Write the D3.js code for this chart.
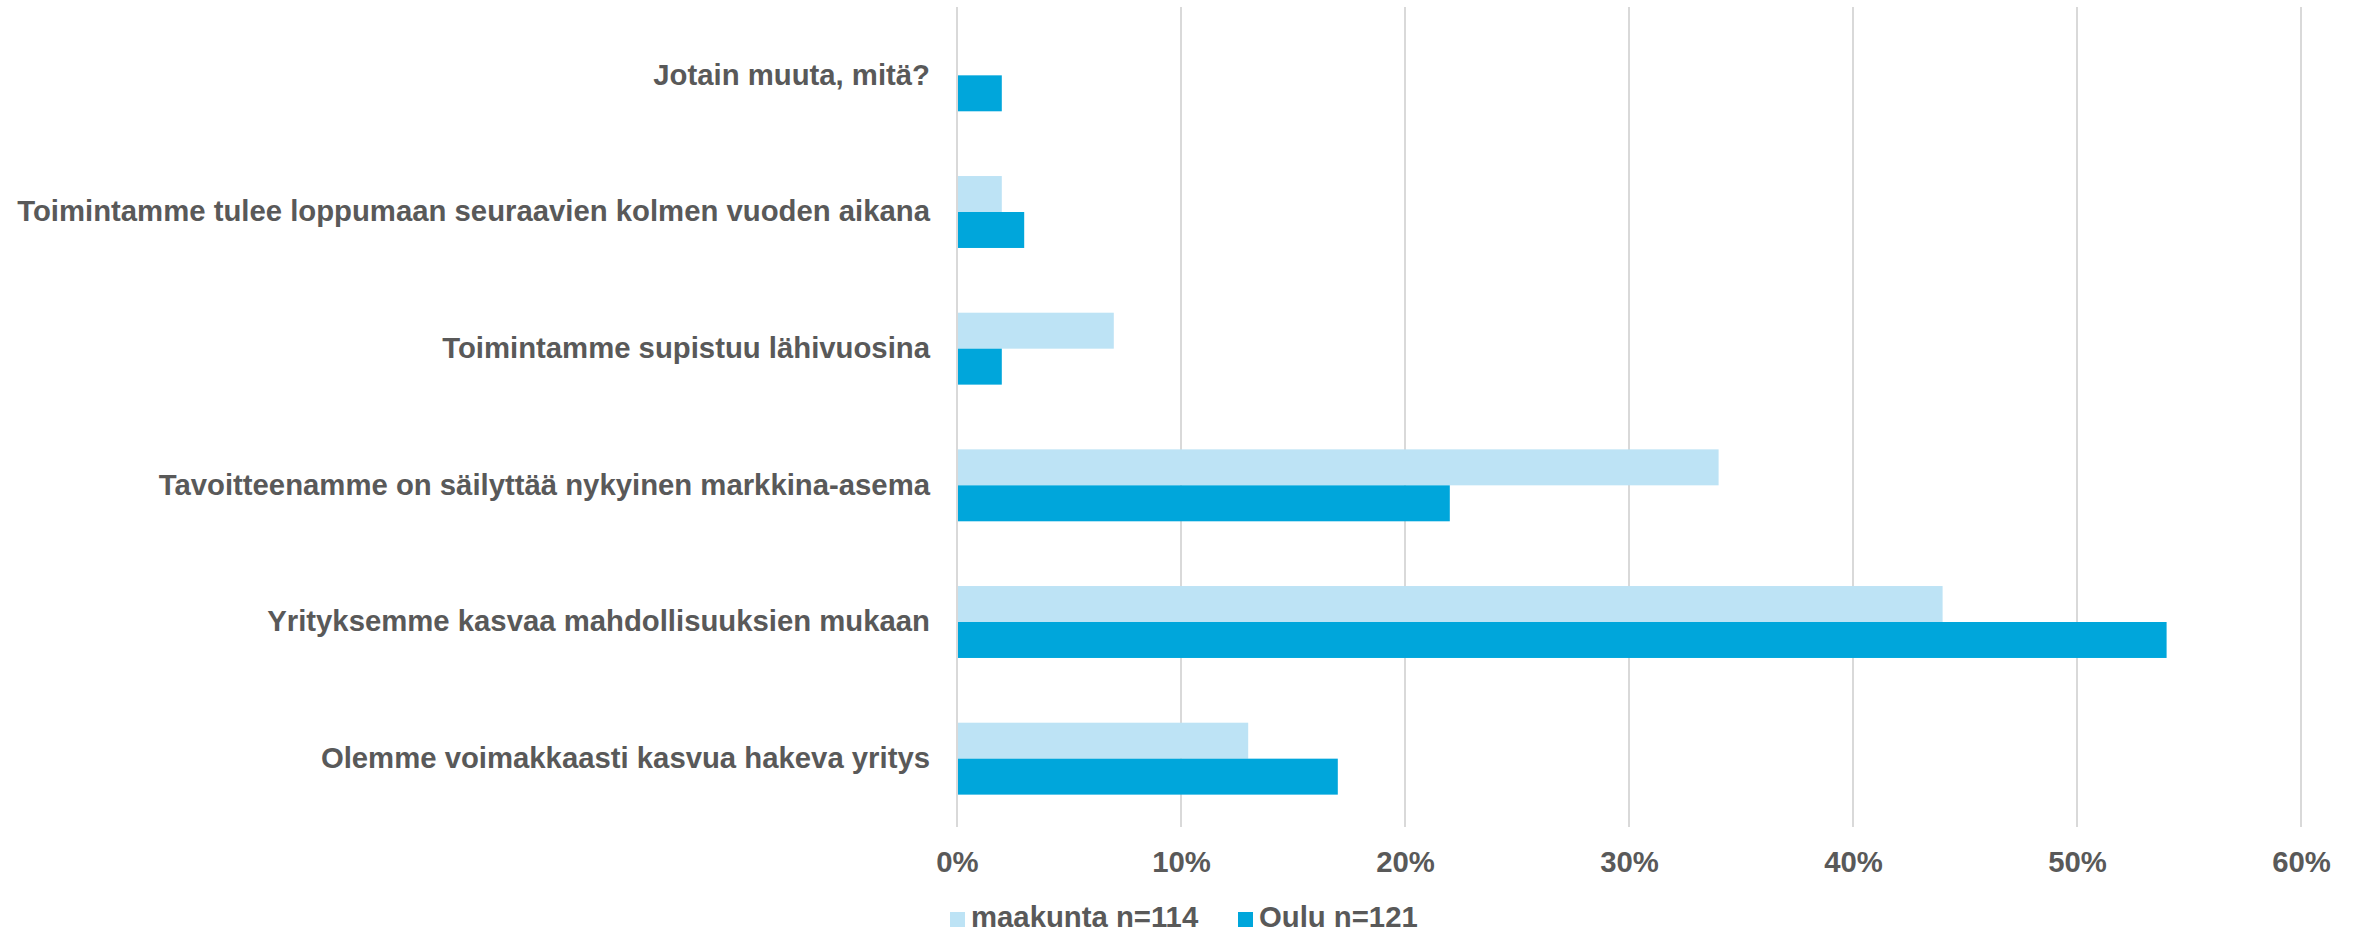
<!DOCTYPE html>
<html><head><meta charset="utf-8">
<script src="https://cdn.jsdelivr.net/npm/d3@7"></script>
<style>body{margin:0;background:#fff;}svg{display:block;font-family:"Liberation Sans",Arial,sans-serif;}</style>
</head><body>
<svg id="chart" width="2361" height="933"></svg>
<script>
const categories = [
  "Jotain muuta, mitä?",
  "Toimintamme tulee loppumaan seuraavien kolmen vuoden aikana",
  "Toimintamme supistuu lähivuosina",
  "Tavoitteenamme on säilyttää nykyinen markkina-asema",
  "Yrityksemme kasvaa mahdollisuuksien mukaan",
  "Olemme voimakkaasti kasvua hakeva yritys"
];
const seriesNames = ["maakunta n=114", "Oulu n=121"];
const maakunta = [0, 0.02, 0.07, 0.34, 0.44, 0.13];
const oulu = [0.02, 0.03, 0.02, 0.22, 0.54, 0.17];
const tickValues = [0, 0.1, 0.2, 0.3, 0.4, 0.5, 0.6];
const colors = ["#BDE3F5", "#00A6DB"];

const svg = d3.select("#chart");
const fontSize = "29.3px";
const x = d3.scaleLinear().domain([0, 0.6]).range([957, 2301]);
const y = d3.scaleBand().domain(categories).range([7, 827]).padding(0);
const y1 = d3.scaleBand().domain(seriesNames).range([0, y.bandwidth()]).paddingInner(0).paddingOuter(0.9);
const textColor = "#595959";

// gridlines
svg.append("g").selectAll("line").data(tickValues).join("line")
  .attr("x1", d => x(d)).attr("x2", d => x(d))
  .attr("y1", 7).attr("y2", 827)
  .attr("stroke", "#D9D9D9").attr("stroke-width", 2);

const data = categories.map((c, i) => ({c, vals: [maakunta[i], oulu[i]]}));
const g = svg.append("g");
data.forEach(d => {
  d.vals.forEach((v, j) => {
    if (v <= 0) return;
    g.append("rect")
      .attr("x", x(0) + 1)
      .attr("y", y(d.c) + y1(seriesNames[j]))
      .attr("width", x(v) - x(0) - 1)
      .attr("height", y1.bandwidth())
      .attr("fill", colors[j]);
  });
});

// category labels
const yAxis = d3.axisLeft(y).tickSize(0).tickPadding(27);
const ya = svg.append("g").attr("transform", `translate(${x(0)},0)`).call(yAxis);
ya.select(".domain").remove();
ya.selectAll("text").attr("font-size", fontSize).attr("font-weight", "bold")
  .attr("fill", textColor).attr("font-family", "Liberation Sans, Arial, sans-serif");

// x tick labels
const xAxis = d3.axisBottom(x).tickValues(tickValues).tickFormat(d3.format(".0%")).tickSize(0).tickPadding(0);
const xa = svg.append("g").attr("transform", "translate(0,851)").call(xAxis);
xa.select(".domain").remove();
xa.selectAll("text").attr("font-size", fontSize).attr("font-weight", "bold")
  .attr("fill", textColor).attr("dy", "0.71em").attr("y", 0)
  .attr("font-family", "Liberation Sans, Arial, sans-serif");

// legend
const legendX = [950, 1238];
const lg = svg.append("g");
seriesNames.forEach((s, j) => {
  lg.append("rect").attr("x", legendX[j]).attr("y", 912).attr("width", 15).attr("height", 15).attr("fill", colors[j]);
  lg.append("text").attr("x", legendX[j] + 21).attr("y", 927)
    .attr("font-size", fontSize).attr("font-weight", "bold").attr("fill", textColor)
    .text(s);
});
</script>
</body></html>
